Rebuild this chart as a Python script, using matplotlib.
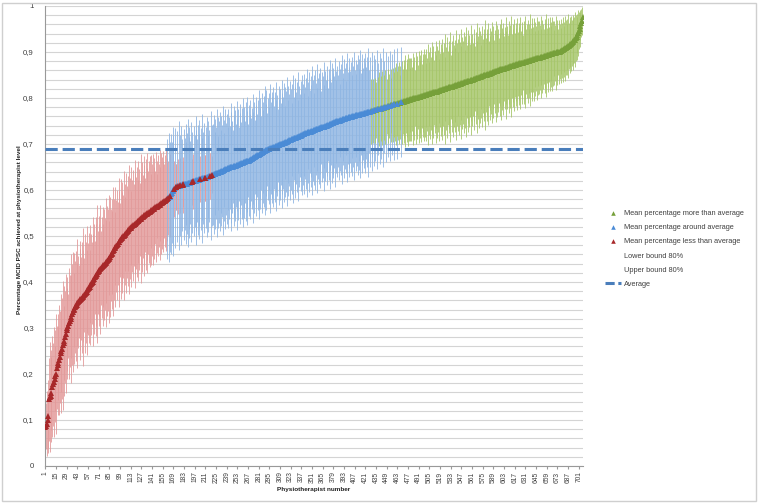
import numpy as np
import matplotlib
matplotlib.use("Agg")
import matplotlib.pyplot as plt
from matplotlib.lines import Line2D
from matplotlib.patches import Rectangle
from matplotlib.ticker import FuncFormatter

plt.rcParams['font.family'] = ['Liberation Sans', 'DejaVu Sans']

# mean share of patients reaching the MCID on the PSC, one value per physiotherapist (sorted)
phys_mean = [
    0.085, 0.088, 0.092, 0.100, 0.108, 0.145, 0.150, 0.152, 0.158, 0.172, 0.178, 0.183, 0.190, 0.195, 0.200, 0.214, 0.220, 0.224, 0.230, 0.238,
    0.245, 0.250, 0.255, 0.262, 0.268, 0.272, 0.280, 0.288, 0.296, 0.300, 0.305, 0.310, 0.316, 0.320, 0.325, 0.330, 0.335, 0.339, 0.342, 0.345,
    0.348, 0.351, 0.354, 0.357, 0.358, 0.360, 0.362, 0.364, 0.366, 0.368, 0.370, 0.372, 0.375, 0.377, 0.379, 0.382, 0.384, 0.387, 0.390, 0.393,
    0.395, 0.398, 0.401, 0.404, 0.407, 0.410, 0.412, 0.415, 0.418, 0.421, 0.424, 0.426, 0.428, 0.430, 0.432, 0.434, 0.436, 0.438, 0.440, 0.442,
    0.444, 0.446, 0.448, 0.450, 0.452, 0.455, 0.458, 0.461, 0.464, 0.467, 0.470, 0.473, 0.476, 0.478, 0.480, 0.483, 0.486, 0.488, 0.491, 0.493,
    0.495, 0.497, 0.499, 0.501, 0.503, 0.505, 0.507, 0.509, 0.511, 0.513, 0.515, 0.517, 0.518, 0.520, 0.521, 0.523, 0.524, 0.526, 0.527, 0.529,
    0.530, 0.532, 0.533, 0.535, 0.536, 0.538, 0.539, 0.541, 0.542, 0.543, 0.545, 0.546, 0.547, 0.548, 0.550, 0.551, 0.552, 0.553, 0.554, 0.556,
    0.557, 0.558, 0.559, 0.560, 0.562, 0.563, 0.564, 0.565, 0.566, 0.567, 0.568, 0.570, 0.571, 0.572, 0.574, 0.575, 0.576, 0.577, 0.578, 0.580,
    0.581, 0.582, 0.584, 0.585, 0.588, 0.591, 0.594, 0.597, 0.600, 0.602, 0.604, 0.606, 0.607, 0.608, 0.608, 0.609, 0.609, 0.610, 0.610, 0.611,
    0.611, 0.612, 0.612, 0.613, 0.613, 0.614, 0.614, 0.615, 0.615, 0.616, 0.616, 0.617, 0.617, 0.618, 0.619, 0.619, 0.620, 0.620, 0.621, 0.621,
    0.622, 0.622, 0.623, 0.623, 0.624, 0.624, 0.625, 0.625, 0.626, 0.626, 0.627, 0.627, 0.628, 0.629, 0.629, 0.630, 0.631, 0.631, 0.632, 0.633,
    0.633, 0.634, 0.635, 0.635, 0.636, 0.637, 0.637, 0.638, 0.639, 0.640, 0.640, 0.641, 0.642, 0.642, 0.643, 0.644, 0.645, 0.645, 0.646, 0.647,
    0.647, 0.648, 0.649, 0.649, 0.650, 0.650, 0.651, 0.652, 0.652, 0.653, 0.653, 0.654, 0.655, 0.655, 0.656, 0.657, 0.657, 0.658, 0.658, 0.659,
    0.660, 0.660, 0.661, 0.662, 0.662, 0.663, 0.664, 0.664, 0.665, 0.666, 0.667, 0.668, 0.669, 0.670, 0.671, 0.672, 0.673, 0.674, 0.675, 0.676,
    0.677, 0.678, 0.679, 0.680, 0.681, 0.682, 0.683, 0.684, 0.685, 0.686, 0.687, 0.688, 0.689, 0.690, 0.690, 0.691, 0.691, 0.692, 0.692, 0.693,
    0.693, 0.694, 0.695, 0.695, 0.696, 0.697, 0.697, 0.698, 0.699, 0.700, 0.700, 0.701, 0.702, 0.703, 0.703, 0.704, 0.705, 0.705, 0.706, 0.707,
    0.708, 0.708, 0.709, 0.710, 0.711, 0.711, 0.712, 0.713, 0.713, 0.714, 0.715, 0.716, 0.716, 0.717, 0.718, 0.718, 0.719, 0.720, 0.721, 0.721,
    0.722, 0.723, 0.723, 0.724, 0.725, 0.725, 0.726, 0.727, 0.727, 0.728, 0.729, 0.729, 0.730, 0.730, 0.731, 0.732, 0.732, 0.733, 0.733, 0.734,
    0.735, 0.735, 0.736, 0.737, 0.737, 0.738, 0.738, 0.739, 0.740, 0.740, 0.741, 0.742, 0.742, 0.743, 0.743, 0.744, 0.745, 0.745, 0.746, 0.747,
    0.747, 0.748, 0.749, 0.749, 0.750, 0.751, 0.751, 0.752, 0.753, 0.753, 0.754, 0.754, 0.755, 0.755, 0.756, 0.756, 0.757, 0.757, 0.758, 0.758,
    0.758, 0.759, 0.759, 0.760, 0.760, 0.761, 0.761, 0.762, 0.762, 0.763, 0.763, 0.764, 0.764, 0.765, 0.765, 0.765, 0.766, 0.766, 0.767, 0.767,
    0.768, 0.768, 0.769, 0.769, 0.770, 0.770, 0.770, 0.771, 0.771, 0.772, 0.772, 0.773, 0.773, 0.774, 0.774, 0.775, 0.775, 0.776, 0.776, 0.777,
    0.777, 0.778, 0.778, 0.779, 0.779, 0.780, 0.780, 0.781, 0.781, 0.782, 0.782, 0.783, 0.783, 0.784, 0.784, 0.785, 0.785, 0.786, 0.786, 0.787,
    0.787, 0.788, 0.788, 0.789, 0.789, 0.790, 0.790, 0.791, 0.791, 0.792, 0.792, 0.793, 0.793, 0.794, 0.794, 0.795, 0.795, 0.796, 0.796, 0.797,
    0.797, 0.798, 0.798, 0.799, 0.799, 0.800, 0.800, 0.801, 0.801, 0.802, 0.802, 0.803, 0.803, 0.804, 0.804, 0.805, 0.805, 0.806, 0.806, 0.807,
    0.807, 0.808, 0.808, 0.809, 0.809, 0.810, 0.810, 0.811, 0.811, 0.812, 0.812, 0.813, 0.813, 0.814, 0.814, 0.815, 0.815, 0.816, 0.817, 0.817,
    0.818, 0.818, 0.819, 0.819, 0.820, 0.820, 0.821, 0.822, 0.822, 0.823, 0.823, 0.824, 0.824, 0.825, 0.825, 0.826, 0.826, 0.827, 0.828, 0.828,
    0.829, 0.829, 0.830, 0.830, 0.831, 0.831, 0.832, 0.833, 0.833, 0.834, 0.834, 0.835, 0.835, 0.836, 0.836, 0.837, 0.837, 0.838, 0.839, 0.839,
    0.840, 0.840, 0.841, 0.841, 0.842, 0.843, 0.843, 0.844, 0.844, 0.845, 0.846, 0.846, 0.847, 0.847, 0.848, 0.849, 0.849, 0.850, 0.850, 0.851,
    0.852, 0.852, 0.853, 0.853, 0.854, 0.855, 0.855, 0.856, 0.856, 0.857, 0.858, 0.858, 0.859, 0.859, 0.860, 0.860, 0.861, 0.862, 0.862, 0.863,
    0.863, 0.864, 0.864, 0.865, 0.865, 0.866, 0.866, 0.867, 0.867, 0.868, 0.869, 0.869, 0.870, 0.870, 0.871, 0.871, 0.872, 0.872, 0.873, 0.873,
    0.874, 0.874, 0.875, 0.875, 0.876, 0.876, 0.877, 0.877, 0.878, 0.878, 0.879, 0.879, 0.880, 0.880, 0.881, 0.881, 0.882, 0.882, 0.883, 0.883,
    0.884, 0.884, 0.885, 0.885, 0.886, 0.886, 0.887, 0.887, 0.888, 0.888, 0.889, 0.889, 0.890, 0.890, 0.891, 0.891, 0.892, 0.892, 0.893, 0.893,
    0.894, 0.894, 0.895, 0.895, 0.896, 0.896, 0.897, 0.897, 0.898, 0.898, 0.898, 0.899, 0.899, 0.900, 0.900, 0.901, 0.902, 0.903, 0.904, 0.905,
    0.906, 0.907, 0.908, 0.909, 0.910, 0.911, 0.913, 0.914, 0.915, 0.917, 0.918, 0.920, 0.921, 0.923, 0.925, 0.927, 0.930, 0.933, 0.937, 0.941,
    0.946, 0.951, 0.957, 0.963, 0.968, 0.975,
]

# half width of the 80% interval for each physiotherapist
ci80_half = [
    0.04, 0.05, 0.07, 0.06, 0.08, 0.09, 0.12, 0.10, 0.08, 0.11, 0.09, 0.12, 0.07, 0.10, 0.13, 0.09, 0.11, 0.08, 0.12, 0.10,
    0.13, 0.09, 0.11, 0.14, 0.08, 0.12, 0.10, 0.13, 0.09, 0.11, 0.07, 0.12, 0.10, 0.14, 0.09, 0.11, 0.13, 0.08, 0.12, 0.10,
    0.12, 0.09, 0.14, 0.10, 0.08, 0.13, 0.11, 0.09, 0.12, 0.15, 0.10, 0.08, 0.13, 0.11, 0.09, 0.14, 0.10, 0.12, 0.08, 0.13,
    0.11, 0.09, 0.14, 0.10, 0.12, 0.08, 0.13, 0.11, 0.15, 0.09, 0.12, 0.10, 0.14, 0.08, 0.11, 0.13, 0.09, 0.12, 0.10, 0.14,
    0.09, 0.12, 0.11, 0.14, 0.08, 0.13, 0.10, 0.12, 0.09, 0.14, 0.11, 0.08, 0.13, 0.10, 0.12, 0.09, 0.14, 0.11, 0.08, 0.13,
    0.10, 0.12, 0.09, 0.14, 0.11, 0.08, 0.13, 0.10, 0.12, 0.09, 0.14, 0.11, 0.08, 0.13, 0.10, 0.12, 0.09, 0.14, 0.11, 0.10,
    0.12, 0.09, 0.13, 0.11, 0.08, 0.14, 0.10, 0.12, 0.09, 0.13, 0.11, 0.08, 0.12, 0.10, 0.13, 0.09, 0.11, 0.12, 0.08, 0.12,
    0.10, 0.12, 0.09, 0.11, 0.08, 0.12, 0.10, 0.07, 0.11, 0.09, 0.12, 0.08, 0.11, 0.10, 0.09, 0.11, 0.08, 0.10, 0.11, 0.09,
    0.13, 0.08, 0.14, 0.12, 0.09, 0.13, 0.11, 0.14, 0.12, 0.06, 0.13, 0.05, 0.05, 0.12, 0.06, 0.14, 0.11, 0.06, 0.13, 0.10,
    0.06, 0.05, 0.12, 0.10, 0.13, 0.09, 0.11, 0.14, 0.10, 0.12, 0.09, 0.13, 0.11, 0.05, 0.06, 0.12, 0.10, 0.14, 0.11, 0.09,
    0.12, 0.10, 0.13, 0.05, 0.11, 0.09, 0.14, 0.10, 0.12, 0.05, 0.05, 0.11, 0.13, 0.09, 0.12, 0.10, 0.05, 0.14, 0.11, 0.04,
    0.11, 0.13, 0.09, 0.12, 0.10, 0.14, 0.08, 0.12, 0.11, 0.13, 0.09, 0.12, 0.10, 0.14, 0.11, 0.08, 0.13, 0.10, 0.12, 0.09,
    0.13, 0.11, 0.09, 0.12, 0.14, 0.10, 0.08, 0.13, 0.11, 0.12, 0.09, 0.14, 0.10, 0.12, 0.08, 0.13, 0.11, 0.09, 0.12, 0.14,
    0.10, 0.12, 0.09, 0.13, 0.11, 0.14, 0.08, 0.12, 0.10, 0.13, 0.09, 0.11, 0.14, 0.10, 0.12, 0.08, 0.13, 0.11, 0.09, 0.12,
    0.14, 0.10, 0.12, 0.08, 0.13, 0.11, 0.09, 0.12, 0.14, 0.10, 0.13, 0.08, 0.11, 0.12, 0.09, 0.14, 0.10, 0.12, 0.11, 0.13,
    0.09, 0.12, 0.10, 0.14, 0.11, 0.08, 0.13, 0.10, 0.12, 0.09, 0.14, 0.11, 0.10, 0.13, 0.08, 0.12, 0.11, 0.14, 0.09, 0.12,
    0.10, 0.13, 0.11, 0.08, 0.12, 0.14, 0.09, 0.11, 0.13, 0.10, 0.12, 0.08, 0.14, 0.11, 0.09, 0.12, 0.10, 0.13, 0.11, 0.09,
    0.13, 0.10, 0.12, 0.14, 0.08, 0.11, 0.13, 0.09, 0.12, 0.10, 0.14, 0.11, 0.08, 0.12, 0.13, 0.10, 0.09, 0.14, 0.11, 0.12,
    0.10, 0.13, 0.08, 0.12, 0.11, 0.14, 0.09, 0.12, 0.10, 0.13, 0.11, 0.08, 0.12, 0.14, 0.10, 0.09, 0.13, 0.11, 0.12, 0.10,
    0.14, 0.11, 0.09, 0.12, 0.10, 0.13, 0.08, 0.11, 0.12, 0.14, 0.10, 0.09, 0.13, 0.11, 0.12, 0.08, 0.14, 0.10, 0.11, 0.13,
    0.10, 0.12, 0.09, 0.13, 0.11, 0.14, 0.10, 0.12, 0.09, 0.11, 0.13, 0.10, 0.12, 0.14, 0.09, 0.11, 0.13, 0.10, 0.12, 0.11,
    0.13, 0.10, 0.12, 0.14, 0.11, 0.09, 0.12, 0.07, 0.13, 0.10, 0.07, 0.12, 0.07, 0.11, 0.06, 0.13, 0.07, 0.10, 0.08, 0.12,
    0.07, 0.11, 0.08, 0.13, 0.07, 0.10, 0.08, 0.12, 0.06, 0.11, 0.08, 0.07, 0.12, 0.08, 0.06, 0.11, 0.08, 0.07, 0.12, 0.08,
    0.09, 0.07, 0.12, 0.08, 0.09, 0.06, 0.08, 0.12, 0.09, 0.07, 0.08, 0.09, 0.10, 0.07, 0.09, 0.08, 0.10, 0.09, 0.07, 0.09,
    0.09, 0.07, 0.10, 0.08, 0.09, 0.06, 0.10, 0.08, 0.09, 0.07, 0.10, 0.08, 0.09, 0.10, 0.07, 0.09, 0.08, 0.10, 0.09, 0.07,
    0.10, 0.08, 0.11, 0.09, 0.07, 0.10, 0.08, 0.11, 0.09, 0.10, 0.07, 0.09, 0.11, 0.08, 0.10, 0.09, 0.07, 0.11, 0.08, 0.10,
    0.09, 0.11, 0.08, 0.10, 0.12, 0.07, 0.09, 0.11, 0.08, 0.10, 0.09, 0.12, 0.07, 0.10, 0.08, 0.11, 0.09, 0.10, 0.08, 0.12,
    0.09, 0.10, 0.07, 0.11, 0.09, 0.12, 0.08, 0.10, 0.09, 0.11, 0.07, 0.10, 0.12, 0.08, 0.09, 0.11, 0.10, 0.08, 0.12, 0.09,
    0.10, 0.08, 0.11, 0.09, 0.07, 0.10, 0.12, 0.08, 0.09, 0.11, 0.10, 0.07, 0.09, 0.11, 0.08, 0.10, 0.09, 0.12, 0.08, 0.10,
    0.09, 0.11, 0.07, 0.10, 0.08, 0.09, 0.11, 0.08, 0.10, 0.07, 0.09, 0.11, 0.08, 0.10, 0.09, 0.07, 0.10, 0.08, 0.11, 0.09,
    0.08, 0.10, 0.07, 0.09, 0.11, 0.08, 0.09, 0.07, 0.10, 0.08, 0.09, 0.11, 0.07, 0.09, 0.08, 0.10, 0.07, 0.09, 0.08, 0.10,
    0.07, 0.09, 0.08, 0.10, 0.07, 0.09, 0.08, 0.06, 0.09, 0.08, 0.10, 0.07, 0.08, 0.09, 0.07, 0.08, 0.10, 0.07, 0.09, 0.08,
    0.07, 0.09, 0.06, 0.08, 0.07, 0.09, 0.08, 0.06, 0.08, 0.07, 0.09, 0.06, 0.08, 0.07, 0.06, 0.08, 0.07, 0.09, 0.06, 0.08,
    0.07, 0.06, 0.08, 0.07, 0.06, 0.08, 0.07, 0.05, 0.07, 0.06, 0.08, 0.06, 0.07, 0.05, 0.07, 0.06, 0.07, 0.05, 0.06, 0.07,
    0.06, 0.05, 0.07, 0.06, 0.05, 0.06, 0.07, 0.05, 0.06, 0.05, 0.06, 0.05, 0.06, 0.05, 0.05, 0.06, 0.05, 0.05, 0.04, 0.05,
    0.04, 0.04, 0.03, 0.03, 0.03, 0.02,
]

avg_level = 0.69
xtick_labels = [str(v) for v in range(1, 702, 14)]

labels = ['Mean percentage more than average', 'Mean percentage around average',
          'Mean percentage less than average', 'Lower bound 80%', 'Upper bound 80%', 'Average']

mean = np.array(phys_mean)
half = np.array(ci80_half)
lower = mean - half
upper = mean + half
x = np.arange(1, len(mean) + 1)

# group by where the 80% interval sits relative to the average
more = lower > avg_level
less = upper < avg_level
around = ~(more | less)

bar_groups = [
    (less, '#e39a9a'),
    (around, '#8fb6e3'),
    (more, '#a6c66a'),
]
mark_groups = [
    (more, '#76a03a'),
    (around, '#4a8bd6'),
    (less, '#a8282a'),
]

fig = plt.figure(figsize=(7.62, 5.03), dpi=100)
ax = fig.add_axes([45 / 762, 37 / 503, 538 / 762, 460 / 503])

ax.set_ylim(0, 1)
ax.set_xlim(0.5, len(mean) + 0.5)
ax.set_yticks(np.arange(0, 1.01, 0.1))
ax.set_yticks(np.arange(0, 1.01, 0.02), minor=True)
ax.grid(axis='y', which='both', color='#d4d4d4', lw=0.8, zorder=0)
ax.set_axisbelow(True)

for mask, bar_col in bar_groups:
    ax.vlines(x[mask], lower[mask], upper[mask], colors=bar_col, lw=0.6, zorder=2)
for mask, mark_col in mark_groups:
    ax.plot(x[mask], mean[mask], ls='none', marker='^', ms=4, mew=0,
            color=mark_col, zorder=3)

ax.axhline(avg_level, color='#4a7ebb', lw=2.2, ls=(0, (4, 1.6)), zorder=4)

ax.yaxis.set_major_formatter(FuncFormatter(
    lambda v, _: '0' if v == 0 else ('1' if v == 1 else f'{v:.1f}'.replace('.', ','))))
ax.set_xticks(range(1, 702, 14))
ax.set_xticklabels(xtick_labels, rotation=90, fontsize=4.8, color='#404040')
ax.tick_params(axis='y', which='both', length=0, labelsize=5.6, labelcolor='#404040', pad=8)
ax.tick_params(axis='x', length=2, color='#999999', pad=2)

for side in ['top', 'right']:
    ax.spines[side].set_visible(False)
ax.spines['left'].set_color('#999999')
ax.spines['bottom'].set_color('#999999')
ax.spines['left'].set_linewidth(0.8)
ax.spines['bottom'].set_linewidth(0.8)

fig.text(20 / 762, 1 - 230 / 503, 'Percentage MCID PSC achieved at physiotherapist level',
         rotation=90, ha='center', va='center', fontsize=4.6, fontweight='bold', color='#222222')
fig.text(314 / 762, 1 - 490 / 503, 'Physiotherapist number',
         ha='center', va='center', fontsize=4.6, fontweight='bold', color='#222222')

handles = [
    Line2D([], [], ls='none', marker='^', ms=3.3, mew=0, color='#76a03a'),
    Line2D([], [], ls='none', marker='^', ms=3.3, mew=0, color='#4a8bd6'),
    Line2D([], [], ls='none', marker='^', ms=3.3, mew=0, color='#a8282a'),
    Line2D([], [], ls='none'),
    Line2D([], [], ls='none'),
    Line2D([], [], color='#4a7ebb', lw=2.2, ls=(0, (3, 1.2))),
]
leg = fig.legend(handles, labels, loc='upper left', bbox_to_anchor=(602 / 762, 1 - 207 / 503),
                 frameon=False, fontsize=5.3, handlelength=2.2, handletextpad=0.4,
                 labelspacing=0.95, borderaxespad=0)
for t in leg.get_texts():
    t.set_color('#404040')

# outer chart border
fig.patches.append(Rectangle((2 / 762, 2 / 503), 754 / 762, 498 / 503, transform=fig.transFigure,
                             fill=False, edgecolor='#cfcfcf', lw=1.0))

fig.savefig('out.png', dpi=100)
